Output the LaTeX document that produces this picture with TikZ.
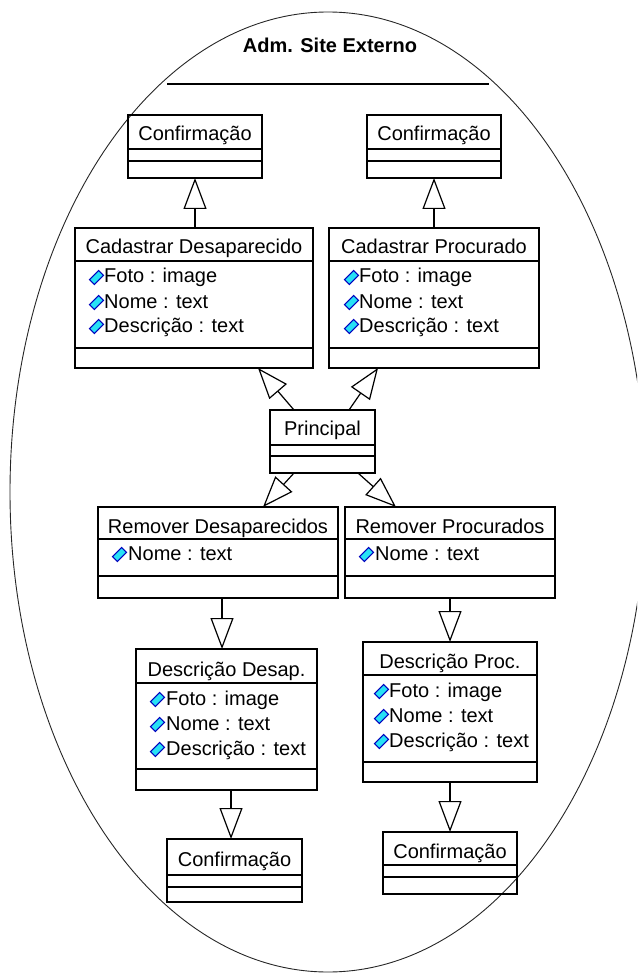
\documentclass[tikz,border=0pt]{standalone}
\usepackage{fontspec}
\setmainfont{Liberation Sans}
\usetikzlibrary{arrows.meta,calc}
\definecolor{attrfill}{RGB}{40,225,245}
\definecolor{attredge}{RGB}{0,0,190}

% class box: name, x1, y1, x2, y2, first separator, second separator
\newcommand{\umlclass}[7]{%
  \node[box, minimum width={#4pt-#2pt}, minimum height={#5pt-#3pt}] (#1) at (#2,#3) {};
  \draw[sep] (#2,#6) -- (#4,#6);
  \draw[sep] (#2,#7) -- (#4,#7);
}
% attribute line: icon centre x, text x, baseline y, text
\newcommand{\umlattr}[4]{%
  \draw[attredge, fill=attrfill, line width=1.1pt, rotate around={45:(#1,#3-5.5)}]
    (#1-6.5,#3-9) rectangle (#1+6.5,#3-2);
  \node[attr] at (#2,#3) {#4};
}

\begin{document}
\begin{tikzpicture}[x=1pt,y=-1pt,
  box/.style={draw, line width=1.2pt, rectangle, inner sep=0pt, outer sep=0pt, anchor=north west},
  sep/.style={line width=1.2pt},
  txt/.style={anchor=base, inner sep=0pt, font=\fontsize{20}{24}\selectfont},
  attr/.style={anchor=base west, inner sep=0pt, font=\fontsize{20}{24}\selectfont},
  gen/.style={line width=1.2pt, -{Triangle[open, length=31pt, width=23pt]}},
]
\clip (0,0) rectangle (637,973);

% package outline
\draw[line width=0.9pt, black!85] (328,492) ellipse [x radius=318pt, y radius=480pt];
\node[anchor=base, inner sep=0pt, font=\fontsize{20}{24}\selectfont\bfseries] (pkg) at (330,53) {Adm. Site Externo};
\draw[line width=1.1pt] (167,84) -- (489,84);

% upper confirmations
\umlclass{conf1}{128}{115}{262}{178}{149}{161}
\node[txt] at (195,141) {Confirmação};
\umlclass{conf2}{367}{115}{501}{178}{149}{161}
\node[txt] at (434,141) {Confirmação};

% registration classes
\umlclass{cdes}{75}{228}{313}{368}{261}{348}
\node[txt] at (194,254) {Cadastrar Desaparecido};
\umlattr{96.5}{104}{283}{Foto : image}
\umlattr{96.5}{104}{308}{Nome : text}
\umlattr{96.5}{104}{332}{Descrição : text}

\umlclass{cproc}{329}{228}{539}{368}{261}{348}
\node[txt] at (434,254) {Cadastrar Procurado};
\umlattr{351.5}{359}{283}{Foto : image}
\umlattr{351.5}{359}{308}{Nome : text}
\umlattr{351.5}{359}{332}{Descrição : text}

% main class
\umlclass{princ}{270}{410}{375}{473}{445}{456}
\node[txt] at (322.5,435) {Principal};

% removal classes
\umlclass{remdes}{98}{507}{338}{598}{539}{576}
\node[txt] at (218,533) {Remover Desaparecidos};
\umlattr{119.5}{128}{560}{Nome : text}

\umlclass{remproc}{345}{507}{555}{598}{539}{576}
\node[txt] at (450,533) {Remover Procurados};
\umlattr{366.5}{375}{560}{Nome : text}

% description classes
\umlclass{desdes}{136}{649}{317}{790}{683}{769}
\node[txt] at (226.5,676) {Descrição Desap.};
\umlattr{157.5}{166}{705}{Foto : image}
\umlattr{157.5}{166}{730}{Nome : text}
\umlattr{157.5}{166}{755}{Descrição : text}

\umlclass{desproc}{363}{642}{537}{782}{675}{762}
\node[txt] at (450,668) {Descrição Proc.};
\umlattr{381.5}{389}{697}{Foto : image}
\umlattr{381.5}{389}{722}{Nome : text}
\umlattr{381.5}{389}{747}{Descrição : text}

% lower confirmations
\umlclass{conf3}{167}{839}{302}{902}{875}{887}
\node[txt] at (234.5,866) {Confirmação};
\umlclass{conf4}{383}{832}{517}{894}{865}{877}
\node[txt] at (450,858) {Confirmação};

% generalisations
\draw[gen] (cdes.north -| conf1.south) -- (conf1.south);
\draw[gen] (cproc.north -| conf2.south) -- (conf2.south);
\draw[gen] ($(princ.north west)+(24,0)$) -- ($(cdes.south east)+(-55,0)$);
\draw[gen] ($(princ.north east)+(-26,0)$) -- ($(cproc.south west)+(49,0)$);
\draw[gen] ($(princ.south west)+(24,0)$) -- ($(remdes.north east)+(-75,0)$);
\draw[gen] ($(princ.south east)+(-17,0)$) -- ($(remproc.north west)+(51,0)$);
\draw[gen] ($(remdes.south west)+(124,0)$) -- ($(desdes.north west)+(86,0)$);
\draw[gen] (remproc.south) -- (desproc.north -| remproc.south);
\draw[gen] ($(desdes.south west)+(95,0)$) -- ($(conf3.north west)+(64,0)$);
\draw[gen] (desproc.south) -- (conf4.north -| desproc.south);
\end{tikzpicture}
\end{document}
